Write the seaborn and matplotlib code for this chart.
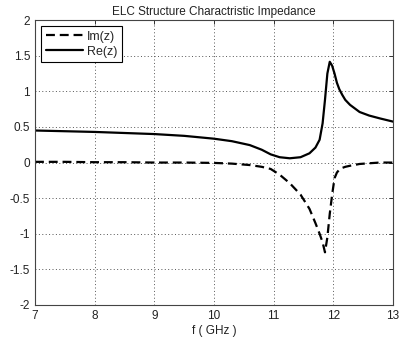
import matplotlib
matplotlib.use("Agg")
import matplotlib.pyplot as plt
import seaborn as sns
import pandas as pd

freq = [7.0, 7.5, 8.0, 8.5, 9.0, 9.5, 10.0, 10.3, 10.6, 10.8, 10.95, 11.1, 11.27, 11.45,
        11.6, 11.7, 11.77, 11.82, 11.86, 11.9, 11.94, 11.98, 12.02, 12.06, 12.1, 12.15,
        12.2, 12.28, 12.44, 12.6, 12.78, 13.0]
re_z = [0.45, 0.44, 0.43, 0.415, 0.40, 0.375, 0.335, 0.30, 0.245, 0.18, 0.115, 0.075, 0.06,
        0.075, 0.13, 0.21, 0.32, 0.55, 0.88, 1.25, 1.415, 1.36, 1.25, 1.12, 1.03, 0.95,
        0.88, 0.81, 0.71, 0.66, 0.62, 0.575]
im_z = [0.01, 0.01, 0.005, 0.005, 0.0, 0.0, -0.005, -0.015, -0.035, -0.06, -0.09, -0.17,
        -0.29, -0.45, -0.65, -0.85, -1.0, -1.12, -1.26, -1.05, -0.72, -0.45, -0.22, -0.14,
        -0.1, -0.075, -0.06, -0.045, -0.02, -0.01, 0.0, 0.0]
x_ticks = [7, 8, 9, 10, 11, 12, 13]
y_ticks = [-2, -1.5, -1, -0.5, 0, 0.5, 1, 1.5, 2]
y_tick_labels = ["-2", "-1.5", "-1", "-0.5", "0", "0.5", "1", "1.5", "2"]

sns.set_style("white")
plt.rcParams['font.family'] = ['Liberation Sans', 'DejaVu Sans']

fig = plt.figure(figsize=(4.0, 3.41), dpi=100)
ax = fig.add_axes([0.0875, 0.1056, 0.895, 0.8354])

df_im = pd.DataFrame({"f": freq, "v": im_z})
df_re = pd.DataFrame({"f": freq, "v": re_z})
sns.lineplot(data=df_im, x="f", y="v", ax=ax, color="black", lw=1.6,
             linestyle=(0, (4, 2.2)), label="Im(z)")
sns.lineplot(data=df_re, x="f", y="v", ax=ax, color="black", lw=1.6, label="Re(z)")

ax.set_xlim(7, 13)
ax.set_ylim(-2, 2)
ax.set_xticks(x_ticks)
ax.set_yticks(y_ticks)
ax.set_yticklabels(y_tick_labels)
ax.grid(True, linestyle=(0, (1, 2.5)), color="#555555", linewidth=0.7)
ax.tick_params(direction="in", length=3, width=0.7, labelsize=8.5, colors="#333333",
               top=True, right=True, labelcolor="#222222")
for s in ax.spines.values():
    s.set_color("#444444")
    s.set_linewidth(0.8)
ax.set_xlabel("f ( GHz )", fontsize=8.5, color="#222222", labelpad=2)
ax.set_ylabel("")
ax.set_title("ELC Structure Charactristic Impedance", fontsize=8.5, color="#222222", pad=4)

leg = ax.legend(loc="upper left", fontsize=9, frameon=True, fancybox=False,
                handlelength=3.0, borderpad=0.35, labelspacing=0.25, handletextpad=0.3,
                borderaxespad=0.5)
leg.get_frame().set_edgecolor("black")
leg.get_frame().set_linewidth(0.8)
leg.get_frame().set_alpha(1)

fig.savefig("out.png", dpi=100)
